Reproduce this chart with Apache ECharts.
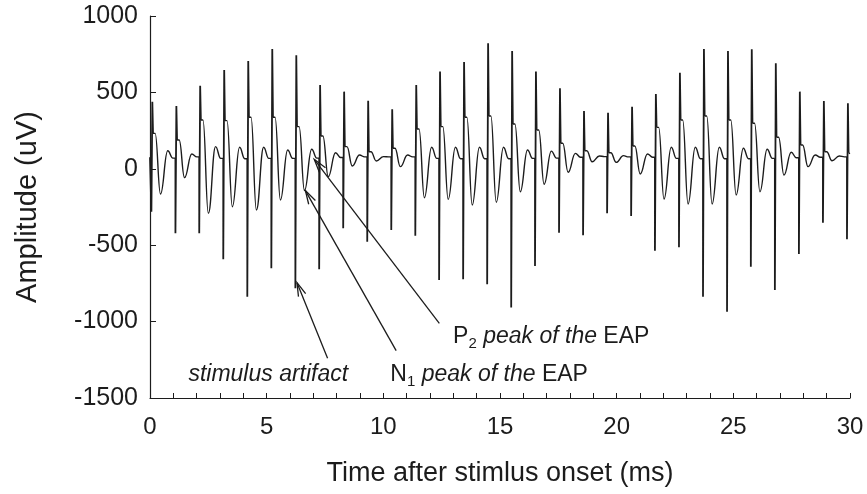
<!DOCTYPE html>
<html><head><meta charset="utf-8">
<script src="https://cdn.jsdelivr.net/npm/echarts@6/dist/echarts.min.js"></script>
<style>html,body{margin:0;padding:0;background:#fff}#c{width:867px;height:494px}</style>
</head><body><div id="c"></div>
<script>
// ---- data ----
const stimTimes = [0.10,1.13,2.15,3.18,4.21,5.24,6.27,7.29,8.32,9.35,10.38,11.41,12.43,13.46,14.49,15.52,16.54,17.57,18.60,19.63,20.66,21.68,22.71,23.74,24.77,25.79,26.82,27.85,28.88,29.91];
const artifactUp = [439,411,544,647,705,784,743,548,505,446,389,548,636,699,821,771,636,527,378,367,406,490,629,784,771,782,690,505,444,429];
const artifactDown = [-281,-422,-422,-592,-837,-651,-782,-658,-389,-477,-401,-438,-728,-723,-756,-907,-636,-418,-435,-291,-309,-536,-514,-837,-935,-641,-793,-558,-353,-461];
const shoulder = [232,188,319,315,337,337,276,215,145,112,134,260,276,337,346,293,254,167,118,105,149,271,319,346,319,298,206,156,112,105];
const n1Peak = [-165,-58,-291,-248,-270,-204,-143,-52,18,51,14,-189,-200,-237,-219,-150,-101,-23,46,42,-34,-198,-230,-230,-171,-150,-41,14,53,null];
const p2Peak = [118,97,145,141,141,123,128,105,90,80,90,141,141,141,141,123,116,101,84,86,97,141,141,141,134,128,108,90,84,null];
const baseline = [70,78,68,66,68,68,70,74,78,78,78,68,66,66,66,68,70,76,80,78,76,68,66,66,66,68,72,76,78,null];
// time offsets (ms) of each phase relative to the stimulus artifact peak
const phaseOffsets = {down:-0.04, shoulderStart:0.03, shoulderEnd:0.12, n1:0.35, p2:0.66, base:0.88};
const traceStart = [0, 75];
const traceEnd = [30, 100];

// ---- build series data ----
const spikeData = [traceStart];
const eapData = [];
for (let k = 0; k < stimTimes.length; k++) {
  const t = stimTimes[k];
  const prev = k === 0 ? traceStart[1] : baseline[k-1];
  spikeData.push([t + phaseOffsets.down, prev]);
  spikeData.push([t + phaseOffsets.down, artifactDown[k]]);
  spikeData.push([t, artifactUp[k]]);
  spikeData.push([t + phaseOffsets.shoulderStart, shoulder[k]]);
  spikeData.push([t + phaseOffsets.shoulderStart, '-']);
  eapData.push([t + phaseOffsets.shoulderStart, shoulder[k]]);
  if (n1Peak[k] === null) {
    eapData.push(traceEnd);
  } else {
    eapData.push([t + phaseOffsets.shoulderEnd, shoulder[k]]);
    eapData.push([t + phaseOffsets.n1, n1Peak[k]]);
    eapData.push([t + phaseOffsets.p2, p2Peak[k]]);
    eapData.push([t + phaseOffsets.base, baseline[k]]);
    eapData.push([stimTimes[k+1] + phaseOffsets.down, baseline[k]]);
  }
  eapData.push([t, '-']);
}

const FONT = '"Liberation Sans", Arial, Helvetica, sans-serif';
const INK = '#1c1c1c';
const chart = echarts.init(document.getElementById('c'));
chart.setOption({
  animation: false,
  grid: {left: 150, right: 17, top: 16, bottom: 96},
  xAxis: {
    type: 'value', min: 0, max: 30, interval: 5,
    axisLine: {show: true, onZero: false, lineStyle: {color: INK, width: 1.2}},
    axisTick: {show: true, inside: true, length: 5, lineStyle: {color: INK}},
    minorTick: {show: true, splitNumber: 5, length: 5, lineStyle: {color: INK}},
    splitLine: {show: false},
    axisLabel: {fontSize: 24, color: INK, fontFamily: FONT, margin: 17, formatter: v => String(v)},
    name: 'Time after stimlus onset (ms)', nameLocation: 'middle', nameGap: 62,
    nameTextStyle: {fontSize: 27, color: INK, fontFamily: FONT}
  },
  yAxis: {
    type: 'value', min: -1500, max: 1000, interval: 500,
    axisLine: {show: true, onZero: false, lineStyle: {color: INK, width: 1.2}},
    axisTick: {show: true, inside: true, length: 6, lineStyle: {color: INK}},
    splitLine: {show: false},
    axisLabel: {fontSize: 25, color: INK, fontFamily: FONT, margin: 12, formatter: v => String(v)},
    name: 'Amplitude (uV)', nameLocation: 'middle', nameGap: 108,
    nameTextStyle: {fontSize: 29, color: INK, fontFamily: FONT}
  },
  series: [
    {type: 'line', data: spikeData, showSymbol: false, symbol: 'none', connectNulls: false,
     lineStyle: {color: INK, width: 1.8}},
    {type: 'line', data: eapData, showSymbol: false, symbol: 'none', connectNulls: false,
     smooth: 0.45, smoothMonotone: 'x', lineStyle: {color: INK, width: 1.4}}
  ]
});

// ---- annotations (arrows + labels) in data coordinates ----
const arrows = [
  {tail: [7.61, -1240], head: [6.30, -745]},
  {tail: [10.55, -1190], head: [6.66, -143]},
  {tail: [12.40, -1011], head: [7.04, 62]}
];
const labels = [
  {at: [5.07, -1349], align: 'center', text: '{i|stimulus artifact}'},
  {at: [10.30, -1349], align: 'left', text: '{r|N}{s|1}{i| peak of the }{r|EAP}'},
  {at: [12.99, -1101], align: 'left', text: '{r|P}{s|2}{i| peak of the }{r|EAP}'}
];
const px = p => chart.convertToPixel({gridIndex: 0}, p);
const g = [];
arrows.forEach(a => {
  const T = px(a.tail), H = px(a.head);
  const dx = T[0] - H[0], dy = T[1] - H[1];
  const L = Math.hypot(dx, dy), ux = dx / L, uy = dy / L;
  const ang = 16 * Math.PI / 180, len = 14;
  const c = Math.cos(ang), s = Math.sin(ang);
  const a1 = [H[0] + len * (ux * c - uy * s), H[1] + len * (ux * s + uy * c)];
  const a2 = [H[0] + len * (ux * c + uy * s), H[1] + len * (-ux * s + uy * c)];
  g.push({type: 'polyline', shape: {points: [T, H]}, style: {stroke: INK, lineWidth: 1.3, fill: null}, silent: true});
  g.push({type: 'polyline', shape: {points: [a1, H, a2]}, style: {stroke: INK, lineWidth: 1.3, fill: null}, silent: true});
});
labels.forEach(l => {
  const P = px(l.at);
  g.push({type: 'text', x: P[0], y: P[1], silent: true, style: {
    text: l.text, align: l.align, verticalAlign: 'middle', fill: INK, font: '23px ' + FONT,
    rich: {
      r: {fontSize: 23, fontFamily: FONT, fill: INK, lineHeight: 28, verticalAlign: 'middle'},
      i: {fontSize: 23, fontFamily: FONT, fontStyle: 'italic', fill: INK, lineHeight: 28, verticalAlign: 'middle'},
      s: {fontSize: 15, fontFamily: FONT, fill: INK, lineHeight: 28, verticalAlign: 'bottom'}
    }
  }});
});
chart.setOption({graphic: g});
</script>
</body></html>
